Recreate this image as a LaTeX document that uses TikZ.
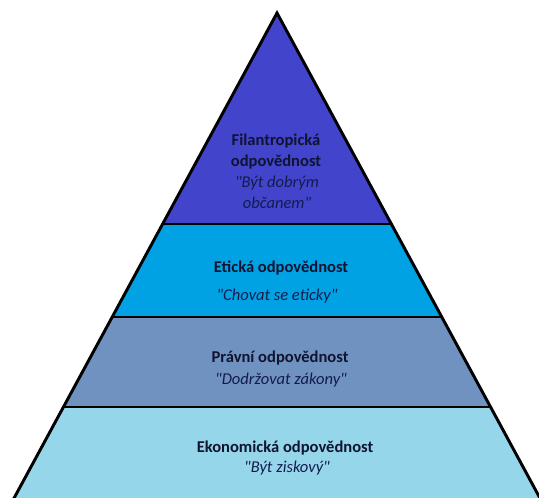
\documentclass[tikz,border=0pt]{standalone}
\usepackage{fontspec}
\setmainfont{Carlito}[Ligatures=TeXOff]
\usetikzlibrary{calc}
\definecolor{cTop}{RGB}{66,68,204}
\definecolor{cEth}{RGB}{0,162,228}
\definecolor{cLaw}{RGB}{112,146,192}
\definecolor{cEco}{RGB}{150,214,234}
\definecolor{cTxt}{RGB}{16,20,48}
\definecolor{cQuo}{RGB}{18,28,76}
\begin{document}
\begin{tikzpicture}[x=0.75pt,y=-0.75pt,
  edge/.style={line width=2.2pt, line join=miter, line cap=butt},
  tier/.style={font=\fontsize{12.4}{15.75}\selectfont\bfseries, text=cTxt, align=center, inner sep=0pt},
  quote/.style={font=\fontsize{12.4}{15.75}\selectfont\itshape, text=cQuo, align=center, inner sep=0pt}]
\useasboundingbox (0,0) rectangle (539,497);
\clip (0,0) rectangle (539,497);
\coordinate (A) at (277,13);
\coordinate (BL) at (7.6,510);
\coordinate (BR) at (546.4,510);
\coordinate (L1) at ($(A)!0.4245!(BL)$);
\coordinate (R1) at ($(A)!0.4245!(BR)$);
\coordinate (L2) at ($(A)!0.6117!(BL)$);
\coordinate (R2) at ($(A)!0.6117!(BR)$);
\coordinate (L3) at ($(A)!0.7928!(BL)$);
\coordinate (R3) at ($(A)!0.7928!(BR)$);
\fill[cTop] (A) -- (L1) -- (R1) -- cycle;
\fill[cEth] (L1) -- (L2) -- (R2) -- (R1) -- cycle;
\fill[cLaw] (L2) -- (L3) -- (R3) -- (R2) -- cycle;
\fill[cEco] (L3) -- (BL) -- (BR) -- (R3) -- cycle;
\draw[edge] (L1) -- (R1);
\draw[edge] (L2) -- (R2);
\draw[edge] (L3) -- (R3);
\draw[edge] (BL) -- (A) -- (BR);
\node[tier] (t1) at (276,151) {Filantropická\\odpovědnost};
\node[quote] (q1) at (277,192) {"Být dobrým\\občanem"};
\node[tier] (t2) at (281,268) {Etická odpovědnost};
\node[quote] (q2) at (277,296) {"Chovat se eticky"};
\node[tier] (t3) at (280,358) {Právní odpovědnost};
\node[quote] (q3) at (281,380) {"Dodržovat zákony"};
\node[tier] (t4) at (285,448) {Ekonomická odpovědnost};
\node[quote] (q4) at (287,468) {"Být ziskový"};
\end{tikzpicture}
\end{document}
